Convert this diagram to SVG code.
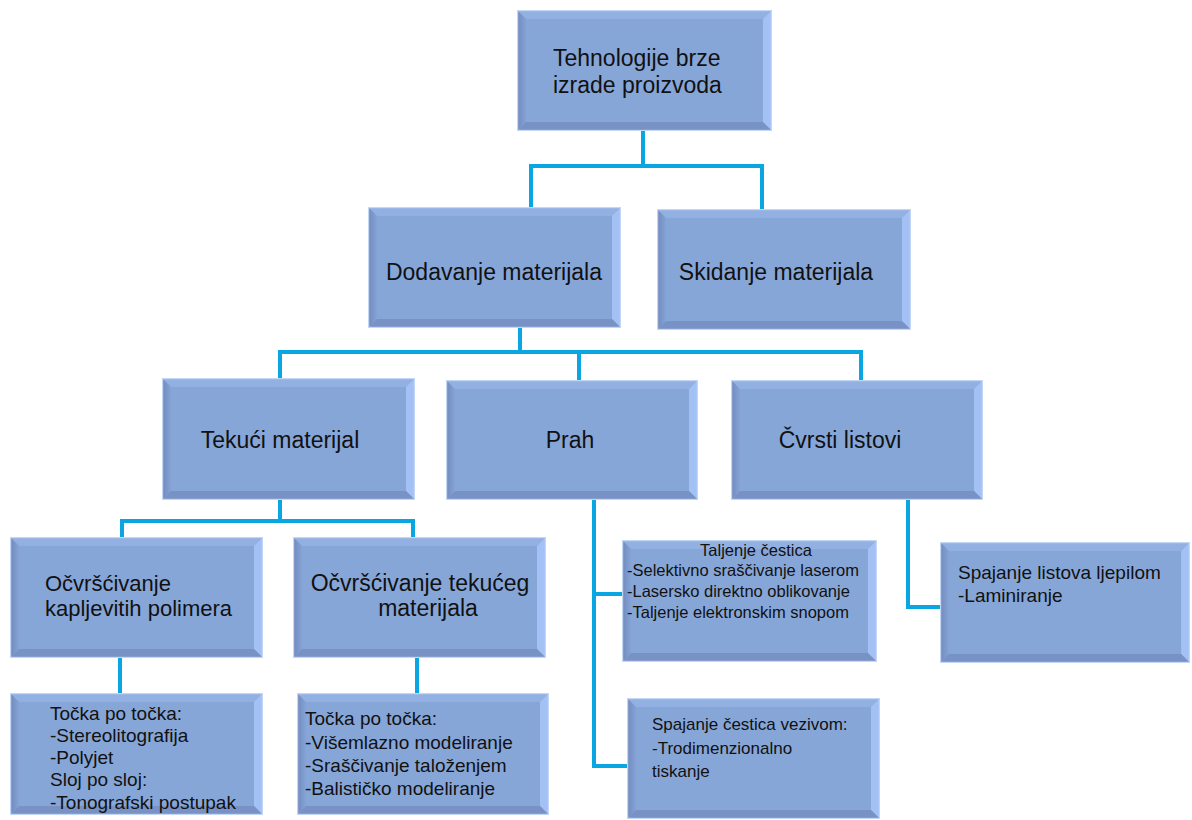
<svg xmlns="http://www.w3.org/2000/svg" xmlns:xlink="http://www.w3.org/1999/xlink" width="1192" height="820" viewBox="0 0 1192 820">
<style>
.t{font-family:"Liberation Sans",Arial,sans-serif;fill:#111;}
.big{font-size:23px;}
.b2{font-size:22px;}
.mid{font-size:19px;}
.sv{font-size:17px;}
.sm{font-size:16.5px;}
.c{text-anchor:middle;}
.con{fill:none;stroke:#0aa6e2;stroke-width:4;stroke-linejoin:miter;stroke-linecap:butt;}
</style>
<defs>
<linearGradient id="gl" x1="0" y1="0" x2="1" y2="0">
<stop offset="0" stop-color="#7089bd"/>
<stop offset="1" stop-color="#86a3d6"/>
</linearGradient>
<symbol id="bx" viewBox="0 0 253 121" preserveAspectRatio="none">
<rect x="0" y="0" width="253" height="121" fill="#87a6d8"/>
<polygon points="0,0 253,0 244,9 9,9" fill="#93b0e2"/>
<polygon points="0,0 9,9 9,112 0,121" fill="url(#gl)"/>
<polygon points="253,0 253,121 244,112 244,9" fill="#a3c1f5"/>
<polygon points="0,121 253,121 244,112 9,112" fill="#7892c6"/>
<rect x="0.6" y="0.6" width="251.8" height="119.8" fill="none" stroke="#c3d6f3" stroke-width="1.2"/>
</symbol>
</defs>
<rect width="1192" height="820" fill="#ffffff"/>

<g id="connectors">
<path class="con" d="M643,131 V166 M531,207 V166 H762 V209"/>
<path class="con" d="M520,328 V352 M280,378 V352 H861 V380 M579,352 V380"/>
<path class="con" d="M280,500 V521 M122,537 V521 H413 V537"/>
<path class="con" d="M594,500 V766 H627 M594,594 H622"/>
<path class="con" d="M908,500 V607 H940"/>
<path class="con" d="M120,658 V693"/>
<path class="con" d="M417,658 V693"/>
</g>

<g id="n-root">
<use xlink:href="#bx" x="517" y="10" width="255" height="121"/>
<text class="t big" x="553" y="66">Tehnologije brze</text>
<text class="t big" x="553" y="93">izrade proizvoda</text>
</g>

<g id="n-dodavanje">
<use xlink:href="#bx" x="368" y="207" width="253" height="121"/>
<text class="t big c" x="494" y="280">Dodavanje materijala</text>
</g>

<g id="n-skidanje">
<use xlink:href="#bx" x="657" y="209" width="254" height="121"/>
<text class="t big c" x="776" y="280">Skidanje materijala</text>
</g>

<g id="n-tekuci">
<use xlink:href="#bx" x="162" y="378" width="253" height="122"/>
<text class="t big c" x="280" y="448">Tekući materijal</text>
</g>

<g id="n-prah">
<use xlink:href="#bx" x="446" y="380" width="252" height="120"/>
<text class="t big c" x="570" y="448">Prah</text>
</g>

<g id="n-cvrsti">
<use xlink:href="#bx" x="731" y="380" width="252" height="120"/>
<text class="t big c" x="840" y="448">Čvrsti listovi</text>
</g>

<g id="n-kapljevitih">
<use xlink:href="#bx" x="10" y="537" width="253" height="121"/>
<text class="t b2" x="45" y="591">Očvršćivanje</text>
<text class="t b2" x="45" y="616">kapljevitih polimera</text>
</g>

<g id="n-tekuceg">
<use xlink:href="#bx" x="293" y="537" width="253" height="121"/>
<text class="t big c" x="420" y="591">Očvršćivanje tekućeg</text>
<text class="t big c" x="428" y="616">materijala</text>
</g>

<g id="n-taljenje">
<use xlink:href="#bx" x="622" y="540" width="255" height="122"/>
<text class="t sm c" x="756" y="556">Taljenje čestica</text>
<text class="t sm" x="627" y="576">-Selektivno sraščivanje laserom</text>
<text class="t sm" x="627" y="597">-Lasersko direktno oblikovanje</text>
<text class="t sm" x="627" y="618">-Taljenje elektronskim snopom</text>
</g>

<g id="n-listova">
<use xlink:href="#bx" x="940" y="542" width="250" height="121"/>
<text class="t mid" x="958" y="579">Spajanje listova ljepilom</text>
<text class="t mid" x="958" y="602">-Laminiranje</text>
</g>

<g id="n-tocka1">
<use xlink:href="#bx" x="10" y="693" width="253" height="122"/>
<text class="t mid" x="50" y="720">Točka po točka:</text>
<text class="t mid" x="50" y="742">-Stereolitografija</text>
<text class="t mid" x="50" y="764">-Polyjet</text>
<text class="t mid" x="50" y="786">Sloj po sloj:</text>
<text class="t mid" x="50" y="809">-Tonografski postupak</text>
</g>

<g id="n-tocka2">
<use xlink:href="#bx" x="297" y="693" width="252" height="122"/>
<text class="t mid" x="305" y="725">Točka po točka:</text>
<text class="t mid" x="305" y="749">-Višemlazno modeliranje</text>
<text class="t mid" x="305" y="772">-Sraščivanje taloženjem</text>
<text class="t mid" x="305" y="795">-Balističko modeliranje</text>
</g>

<g id="n-vezivom">
<use xlink:href="#bx" x="627" y="698" width="253" height="121"/>
<text class="t sv" x="652" y="730">Spajanje čestica vezivom:</text>
<text class="t sv" x="652" y="754">-Trodimenzionalno</text>
<text class="t sv" x="652" y="777">tiskanje</text>
</g>
</svg>
